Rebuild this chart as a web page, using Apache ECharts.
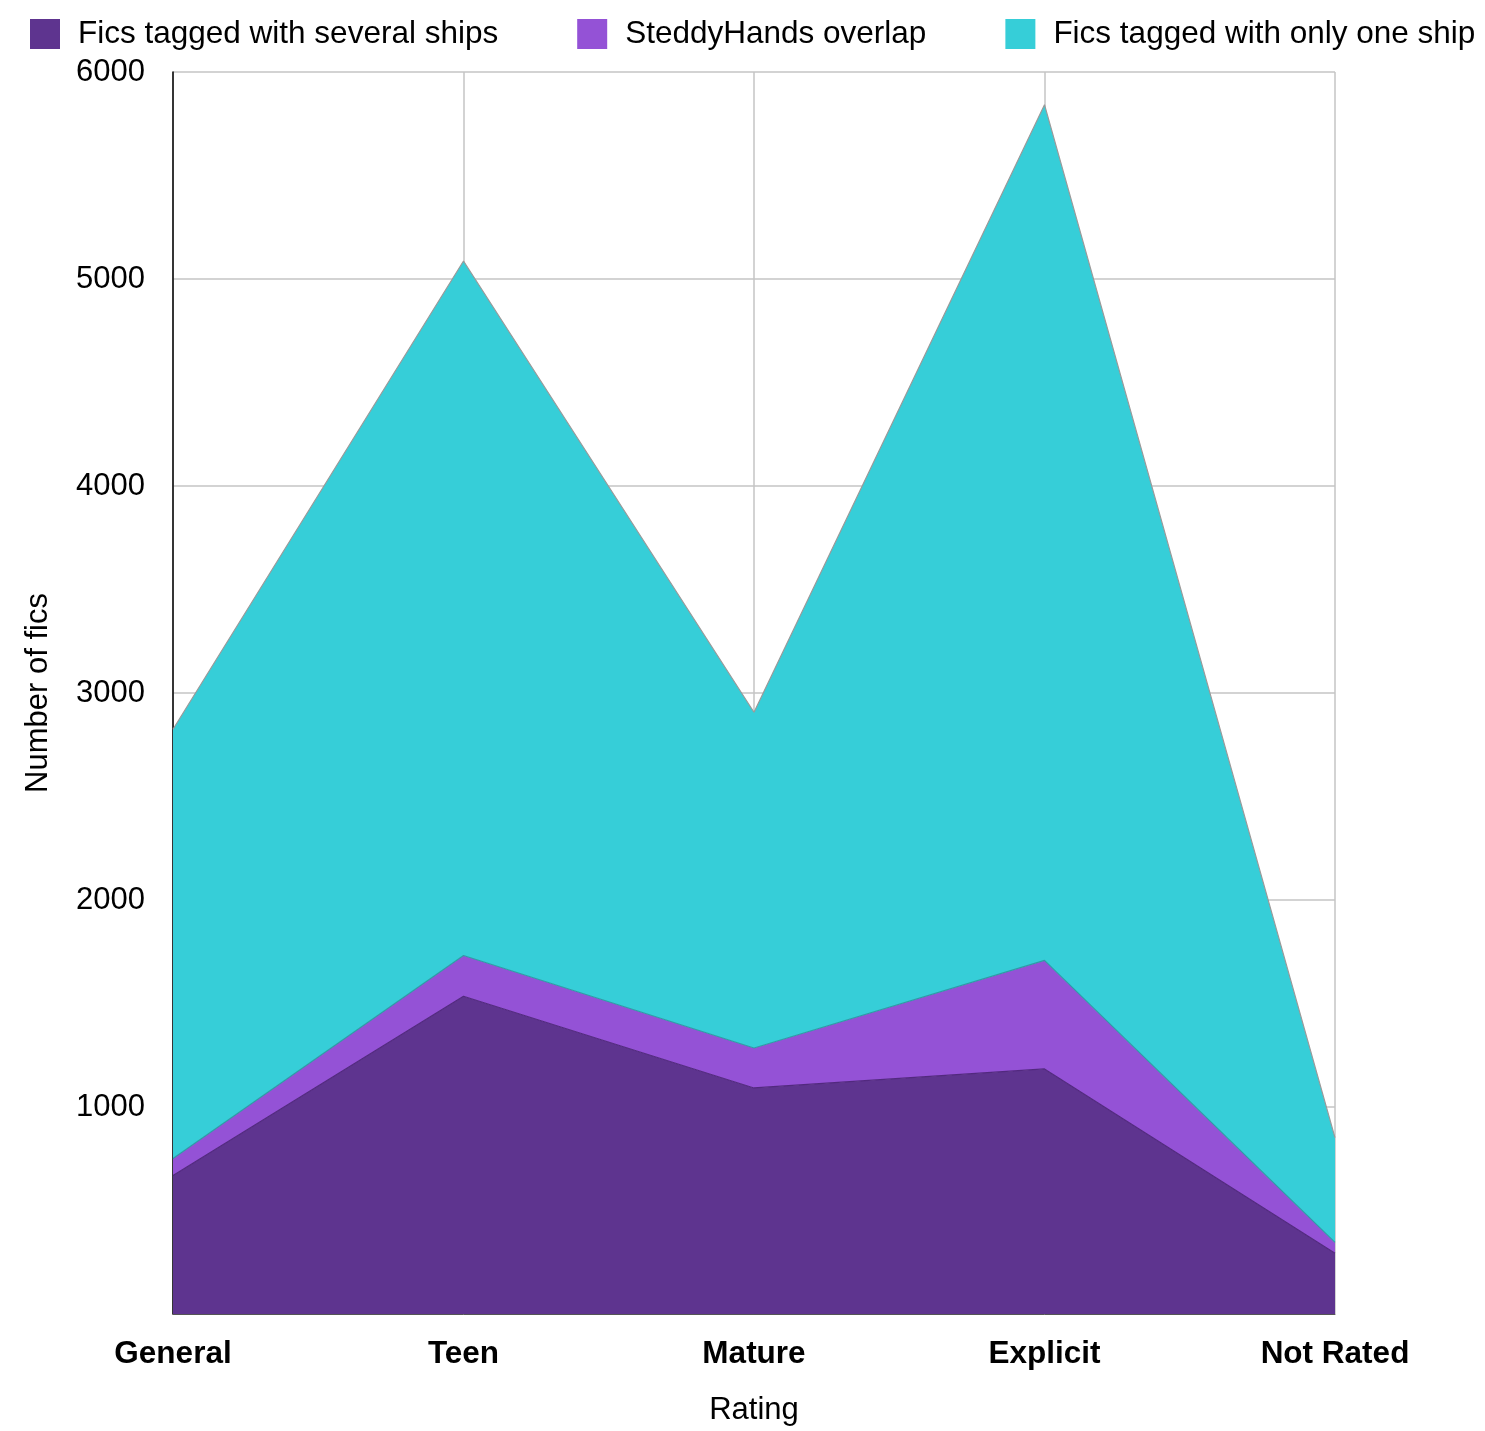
<!DOCTYPE html>
<html>
<head>
<meta charset="utf-8">
<script src="https://cdn.jsdelivr.net/npm/echarts@6/dist/echarts.min.js"></script>
<style>html,body{margin:0;padding:0;background:#fff}#chart{width:1485px;height:1431px}</style>
</head>
<body>
<div id="chart"></div>
<script>
const categories = ['General', 'Teen', 'Mature', 'Explicit', 'Not Rated'];
const severalShips = [669, 1535, 1092, 1184, 294];
const steddyOverlap = [82, 197, 193, 524, 52];
const oneShip = [2074, 3355, 1622, 4134, 506];
const yTicks = { min: 0, max: 6000, interval: 1000 };

const FONT = '"Liberation Sans", Arial, Helvetica, sans-serif';
const chart = echarts.init(document.getElementById('chart'), null, { renderer: 'canvas' });

function areaSeries(name, data, fill, line) {
  return {
    name: name, type: 'line', stack: 'total', data: data,
    symbol: 'none', smooth: false,
    lineStyle: { color: line, width: 1.2 },
    areaStyle: { color: fill, opacity: 1 },
    itemStyle: { color: fill },
    emphasis: { disabled: true }
  };
}

chart.setOption({
  animation: false,
  textStyle: { fontFamily: FONT },
  legend: {
    left: 30, top: 18, width: 1480, padding: 0,
    itemWidth: 30, itemHeight: 30, itemGap: 79,
    icon: 'rect',
    textStyle: { fontFamily: FONT, fontSize: 31.5, color: '#000', padding: [0, 0, 0, 13] },
    data: ['Fics tagged with several ships', 'SteddyHands overlap', 'Fics tagged with only one ship']
  },
  grid: { left: 173, right: 150, top: 72, bottom: 107, containLabel: false },
  xAxis: {
    type: 'category', data: categories, boundaryGap: false,
    name: 'Rating', nameLocation: 'middle', nameGap: 81,
    nameTextStyle: { fontFamily: FONT, fontSize: 31, color: '#000' },
    axisLine: { show: true, lineStyle: { color: '#555', width: 1 } },
    axisTick: { show: false },
    axisLabel: { fontFamily: FONT, fontSize: 31.5, fontWeight: 'bold', color: '#000', margin: 24 },
    splitLine: { show: true, lineStyle: { color: '#c4c4c4', width: 1.5 } }
  },
  yAxis: {
    type: 'value', min: yTicks.min, max: yTicks.max, interval: yTicks.interval,
    name: 'Number of fics', nameLocation: 'middle', nameGap: 119,
    nameTextStyle: { fontFamily: FONT, fontSize: 31, color: '#000' },
    axisLine: { show: true, lineStyle: { color: '#000', width: 1.5 } },
    axisTick: { show: false },
    axisLabel: { fontFamily: FONT, fontSize: 31, color: '#000', margin: 28, padding: [12, 0, 0, 0],
      formatter: function (v) { return v === 0 ? '' : String(v); } },
    splitLine: { show: true, lineStyle: { color: '#c4c4c4', width: 1.5 } }
  },
  series: [
    areaSeries('Fics tagged with several ships', severalShips, '#5E348F', '#52297f'),
    areaSeries('SteddyHands overlap', steddyOverlap, '#9452D6', '#2f9aa6'),
    areaSeries('Fics tagged with only one ship', oneShip, '#36CED8', '#9a9a9a')
  ]
});
</script>
</body>
</html>
